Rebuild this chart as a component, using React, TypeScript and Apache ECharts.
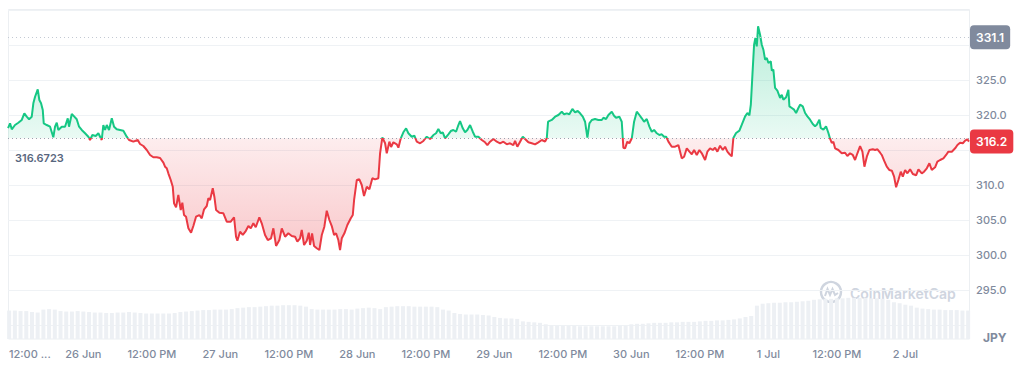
import React, { useEffect, useRef } from "react";
import * as echarts from "echarts";

// Time in hours relative to 26 Jun 00:00, price in JPY
const times = [
  -13.19,-12.84,-12.54,-11.97,-11.39,-10.79,-10.34,-9.92,-9.51,-9.04,
  -8.76,-8.46,-7.99,-7.71,-7.41,-7.11,-6.94,-6.41,-5.83,-5.26,
  -4.96,-4.66,-4.38,-3.78,-3.21,-2.73,-2.51,-2.03,-1.58,-1.16,
  -0.75,-0.28,0.30,0.88,1.17,1.58,2.17,2.63,3.22,3.50,
  3.80,4.10,4.50,4.98,5.38,5.85,6.43,7.01,7.60,8.01,
  8.76,9.53,9.93,10.51,11.11,11.69,12.26,12.86,13.44,14.02,
  14.31,14.61,14.89,15.31,15.66,15.89,16.24,16.64,17.06,17.34,
  17.64,17.99,18.40,18.87,19.27,19.74,20.32,20.74,21.15,21.62,
  21.90,22.20,22.67,22.95,23.25,23.83,24.53,25.12,25.82,26.40,
  26.75,26.98,27.45,27.93,28.38,28.91,29.33,29.78,30.20,30.83,
  31.25,31.83,32.31,32.88,33.29,33.76,34.34,34.76,35.34,35.91,
  36.51,37.09,37.49,37.96,38.26,38.67,39.14,39.49,39.72,40.07,
  40.42,40.89,41.35,41.77,42.22,42.64,43.10,43.52,43.92,44.27,
  44.67,44.97,45.27,45.73,46.25,46.85,47.20,47.43,47.90,48.35,
  48.77,49.17,49.65,50.11,50.63,51.10,51.68,51.98,52.38,52.86,
  53.15,53.61,53.91,54.31,54.91,55.19,55.61,56.06,56.54,56.94,
  57.53,57.99,58.41,58.99,59.57,60.16,60.74,61.32,61.79,62.19,
  62.61,62.96,63.37,63.94,64.37,64.82,65.29,65.70,65.99,66.47,
  66.87,67.27,67.75,68.22,68.62,69.20,69.80,70.37,70.78,71.25,
  71.83,72.43,73.00,73.58,74.18,74.75,75.33,75.63,76.03,76.51,
  76.98,77.38,77.96,78.56,79.13,79.71,80.31,80.89,81.18,81.41,
  82.06,82.64,83.22,83.81,84.22,84.69,85.14,85.67,86.14,86.61,
  87.02,87.49,87.89,88.30,88.65,89.07,89.64,90.22,90.82,91.10,
  91.57,91.98,92.57,92.97,93.32,93.90,94.32,94.60,94.90,95.30,
  95.65,96.08,96.48,96.95,97.41,97.83,98.23,98.70,99.16,99.58,
  99.98,100.46,100.91,101.33,101.73,102.09,102.49,103.08,103.66,104.24,
  104.83,105.24,105.71,106.17,106.59,106.99,107.46,107.92,108.34,108.92,
  109.32,109.79,110.27,110.67,111.07,111.54,112.02,112.42,112.82,113.17,
  113.59,113.87,114.35,114.93,115.35,115.93,116.33,116.68,116.93,117.21,
  117.50,117.73,117.97,118.20,118.55,118.85,119.13,119.43,119.73,120.01,
  120.43,120.61,120.88,121.18,121.58,122.06,122.35,122.63,123.11,123.51,
  123.69,124.11,124.51,124.86,125.26,125.56,126.03,126.44,126.84,127.31,
  127.78,128.18,128.48,128.94,129.18,129.64,130.11,130.52,130.81,131.11,
  131.39,131.69,132.27,132.86,133.44,133.84,134.31,134.79,135.19,135.60,
  136.07,136.48,136.83,137.25,137.70,138.30,138.70,139.11,139.58,139.87,
  140.28,140.75,141.21,141.63,142.03,142.38,142.78,143.20,143.55,143.96,
  144.36,144.83,145.31,145.88,146.29,146.88,147.28,147.76,148.21,148.63,
  149.21,149.61,150.09,150.67,151.14,151.54,152.14,152.72,153.12,153.59,
  154.07,154.47,154.87,155.14,
];

const prices = [
  318.14,318.81,317.96,318.57,318.90,319.29,320.24,319.76,319.39,319.76,
  321.67,322.61,323.67,322.14,321.67,320.71,318.81,318.57,318.33,316.81,
  318.33,318.90,317.86,318.33,318.33,319.53,318.33,320.14,319.76,319.39,
  318.33,317.86,317.39,316.90,316.43,317.14,317.00,317.39,316.43,318.57,
  317.86,318.57,317.86,319.53,318.33,317.96,317.86,317.76,316.90,316.43,
  316.19,316.43,315.86,315.57,315.00,314.29,313.96,313.96,313.86,313.19,
  312.62,312.39,311.67,310.71,309.76,307.38,306.81,308.57,306.43,307.47,
  305.71,305.47,303.81,303.19,304.14,305.47,305.71,305.24,306.53,307.00,
  308.10,307.86,309.53,308.33,306.43,306.04,305.96,304.76,304.76,305.39,
  302.61,302.04,303.33,302.86,303.33,304.14,303.81,304.53,303.96,305.39,
  304.53,302.86,302.14,302.39,303.81,301.29,302.14,303.81,302.61,303.10,
  302.71,302.61,301.90,302.39,303.57,301.43,302.04,303.19,301.43,303.10,
  301.29,300.96,300.71,302.86,304.04,306.33,305.00,304.14,302.86,303.10,
  302.14,300.71,302.39,303.10,304.29,305.24,305.71,307.86,310.71,310.81,
  310.00,308.43,309.76,309.39,310.96,310.81,310.96,314.53,316.81,315.96,
  314.53,316.19,315.43,316.10,315.81,315.33,316.67,317.53,318.10,317.39,
  316.90,317.04,316.19,315.96,316.29,316.90,316.57,317.14,317.39,318.00,
  317.39,317.53,316.67,317.24,317.71,317.86,317.61,318.57,319.14,318.10,
  317.53,317.86,318.57,317.61,316.90,316.90,316.43,316.10,315.71,316.19,
  316.57,316.19,315.96,316.19,315.81,315.96,315.71,316.29,315.47,316.19,
  316.90,316.57,316.10,315.96,315.81,316.10,316.43,316.19,316.67,319.04,
  319.29,319.76,320.00,320.47,320.10,320.24,320.10,320.86,320.39,320.57,
  320.24,319.76,319.04,316.76,318.81,319.29,319.43,319.29,319.29,319.61,
  319.43,320.00,320.47,319.90,319.61,319.76,319.04,315.33,315.24,316.19,
  315.96,316.67,319.04,320.47,320.00,319.53,319.04,319.43,318.33,317.61,
  317.86,317.39,317.14,317.24,316.90,316.90,316.19,315.47,315.47,315.71,
  313.81,314.04,315.24,314.76,314.39,315.00,314.29,315.00,314.53,313.57,
  314.76,315.24,315.00,315.33,314.76,315.61,315.00,315.47,314.76,314.43,
  314.10,316.71,317.43,317.76,318.61,319.81,320.29,319.96,321.47,325.76,
  330.04,331.00,329.81,332.67,331.47,330.04,329.33,327.90,328.14,327.43,
  327.67,326.33,326.47,323.86,323.47,322.43,322.90,322.19,322.53,323.61,
  321.24,321.00,320.76,320.29,321.00,321.47,321.24,320.29,319.81,319.33,
  318.71,318.39,318.61,319.33,318.14,317.90,318.39,317.43,316.61,316.00,
  316.19,315.24,315.00,314.53,314.61,314.14,314.53,314.29,313.57,314.53,
  315.57,314.76,312.62,314.04,315.00,315.10,315.00,315.10,314.61,314.29,
  313.47,312.62,312.14,312.04,311.19,309.67,310.71,311.90,311.19,312.14,
  311.67,312.24,311.57,311.39,312.24,311.67,311.90,312.39,313.10,312.14,
  312.53,313.33,313.57,313.81,314.29,314.76,314.76,315.24,315.71,316.04,
  315.96,316.33,316.53,316.20,
];

// Hourly volume (relative units), first bar at -13 h
const volumeStartHour = -13;
const volumes = [
  58,58,57,57,55,54,60,61,60,57,
  56,56,57,56,55,54,54,53,53,54,
  54,55,54,53,52,52,52,52,52,53,
  55,56,57,58,59,59,60,60,60,61,
  63,64,65,65,66,67,68,68,69,69,
  69,68,66,61,60,60,60,60,61,61,
  60,62,63,64,63,61,65,66,67,67,
  67,66,66,66,66,65,60,58,53,51,
  50,50,50,49,48,45,43,42,42,41,
  36,35,34,33,30,28,27,27,27,27,
  26,26,26,26,26,26,26,27,27,30,
  31,31,32,33,33,33,34,34,35,35,
  35,36,37,37,38,38,39,40,42,45,
  47,68,72,73,74,74,75,75,76,77,
  78,80,81,82,82,83,83,84,84,84,
  84,83,83,82,80,75,73,70,68,64,
  62,61,60,60,59,59,59,58,58,
];

const baselinePrice = 316.6723;
const highPrice = 331.1;
const lastPrice = 316.2;

const xMinHour = -13.2;
const xMaxHour = 155.15;
const xTickHours = [-12, 0, 12, 24, 36, 48, 60, 72, 84, 96, 108, 120, 132, 144];
const xTickLabels = [
  "12:00 ...", "26 Jun", "12:00 PM", "27 Jun", "12:00 PM", "28 Jun", "12:00 PM",
  "29 Jun", "12:00 PM", "30 Jun", "12:00 PM", "1 Jul", "12:00 PM", "2 Jul",
];

const yMin = 290;
const yMax = 335;
const yStep = 5;
const hiddenYLabels = [290, 315, 330, 335];

const GREEN = "#16c784";
const RED = "#ea3943";
const FONT = "Inter, Roboto, sans-serif";

const L = 8;
const R = 55;
const TOP = 10;
const PRICE_H = 315;
const VOL_TOP = 290;
const BOTTOM = 28;
const W = 1024;
const H = 367;

export default function App() {
  const ref = useRef<HTMLDivElement>(null);

  useEffect(() => {
    if (!ref.current) return;
    const chart = echarts.init(ref.current, undefined, { renderer: "svg" });

    const priceData = prices.map((p, i) => [times[i], p]);
    const volData = volumes.map((v, i) => [volumeStartHour + i, v]);

    const baseOff = (yMax - baselinePrice) / (yMax - yMin);
    const areaGradient = new echarts.graphic.LinearGradient(
      0, TOP, 0, TOP + PRICE_H,
      [
        { offset: 0, color: "rgba(22,199,132,0.34)" },
        { offset: baseOff, color: "rgba(22,199,132,0.09)" },
        { offset: baseOff, color: "rgba(234,57,67,0.09)" },
        { offset: 1, color: "rgba(234,57,67,0.40)" },
      ],
      true
    );

    const boxLabel = (bg: string) => ({
      show: true,
      position: "end",
      distance: 1,
      color: "#fff",
      backgroundColor: bg,
      borderRadius: 4,
      padding: [5, 6],
      fontSize: 12,
      lineHeight: 14,
      fontWeight: 600,
      fontFamily: FONT,
    });

    const option: any = {
      animation: false,
      backgroundColor: "#fff",
      textStyle: { fontFamily: FONT },
      grid: [
        { left: L, right: R, top: TOP, height: PRICE_H },
        { left: L, right: R, top: VOL_TOP, bottom: BOTTOM },
      ],
      xAxis: [
        {
          type: "value", gridIndex: 0, min: xMinHour, max: xMaxHour,
          show: false, splitLine: { show: false },
        },
        {
          type: "value", gridIndex: 1, min: xMinHour, max: xMaxHour,
          axisLine: { show: false },
          axisTick: { show: false },
          splitLine: { show: false },
          axisLabel: {
            customValues: xTickHours,
            color: "#808a9d",
            fontSize: 11,
            fontWeight: 500,
            fontFamily: FONT,
            margin: 9,
            formatter: (v: number) => {
              const i = xTickHours.indexOf(Math.round(v));
              if (i < 0) return "";
              return i === 0 ? "{first|" + xTickLabels[i] + "}" : xTickLabels[i];
            },
            rich: {
              first: {
                padding: [0, 0, 0, 30],
                color: "#808a9d",
                fontSize: 11,
                fontWeight: 500,
                fontFamily: FONT,
              },
            },
          },
        },
      ],
      yAxis: [
        {
          type: "value", gridIndex: 0, position: "right",
          min: yMin, max: yMax, interval: yStep,
          axisLine: { show: false }, axisTick: { show: false },
          splitLine: { lineStyle: { color: "#eff2f5", width: 1 } },
          axisLabel: {
            color: "#808a9d", fontSize: 11, fontWeight: 500, margin: 7,
            fontFamily: FONT,
            formatter: (v: number) => (hiddenYLabels.includes(v) ? "" : v.toFixed(1)),
          },
        },
        {
          type: "value", gridIndex: 1, min: 0, max: 100, show: false,
          splitLine: { show: false },
        },
      ],
      visualMap: {
        type: "piecewise", show: false, seriesIndex: 0, dimension: 1,
        pieces: [
          { gt: baselinePrice, lte: 400, color: GREEN },
          { gt: 200, lte: baselinePrice, color: RED },
        ],
        outOfRange: { color: RED },
      },
      series: [
        {
          type: "line",
          xAxisIndex: 0, yAxisIndex: 0,
          data: priceData,
          showSymbol: false,
          symbol: "none",
          lineStyle: { width: 2 },
          areaStyle: { origin: baselinePrice, color: areaGradient, opacity: 1 },
          z: 3,
          markLine: {
            silent: true,
            symbol: ["none", "none"],
            animation: false,
            data: [
              {
                yAxis: baselinePrice,
                lineStyle: { color: "#9aa2ae", type: [1, 3], width: 1 },
                label: {
                  show: true,
                  position: "insideStartBottom",
                  distance: 7,
                  padding: [7, 0, 0, 0],
                  formatter: String(baselinePrice),
                  color: "#58667e",
                  fontSize: 11,
                  fontWeight: 600,
                  fontFamily: FONT,
                },
              },
              {
                yAxis: highPrice,
                lineStyle: { color: "#c3c9d3", type: [1, 3], width: 1 },
                label: { ...boxLabel("#808a9d"), formatter: String(highPrice) },
              },
              {
                yAxis: lastPrice,
                lineStyle: { color: "rgba(0,0,0,0)", width: 1 },
                label: { ...boxLabel(RED), formatter: String(lastPrice) },
              },
            ],
          },
        },
        {
          type: "bar",
          xAxisIndex: 1, yAxisIndex: 1,
          data: volData,
          barWidth: 4,
          itemStyle: { color: "#edf0f4" },
          silent: true,
          z: 1,
        },
      ],
      graphic: [
        {
          type: "rect",
          silent: true,
          z: -1,
          shape: { x: L + 0.5, y: TOP - 0.5, width: W - L - R, height: H - BOTTOM - TOP + 0.5 },
          style: { fill: "none", stroke: "#eceff2", lineWidth: 1 },
        },
        {
          type: "group",
          x: 831, y: 292,
          silent: true,
          children: [
            { type: "circle", shape: { cx: 0, cy: 0, r: 10 }, style: { fill: "none", stroke: "#cfd5df", lineWidth: 2.4 } },
            {
              type: "polyline",
              shape: { points: [[-6, 4], [-3.5, -3], [-1, 3], [1.5, -3], [4, 3], [7, 1]] },
              style: { fill: "none", stroke: "#cfd5df", lineWidth: 2 },
            },
          ],
        },
        {
          type: "text",
          x: 850, y: 293,
          silent: true,
          style: {
            text: "CoinMarketCap",
            fill: "#cfd5df",
            font: "600 14px " + FONT,
            verticalAlign: "middle",
          },
        },
        {
          type: "text",
          x: 983, y: 337,
          silent: true,
          style: {
            text: "JPY",
            fill: "#808a9d",
            font: "700 12px " + FONT,
            verticalAlign: "middle",
          },
        },
      ],
    };

    try {
      chart.setOption(option);
    } catch (e) {
      console.error("setOption failed", e);
    }

    return () => chart.dispose();
  }, []);

  return (
    <div
      ref={ref}
      style={{ position: "fixed", left: 0, top: 0, width: W, height: H }}
    />
  );
}
